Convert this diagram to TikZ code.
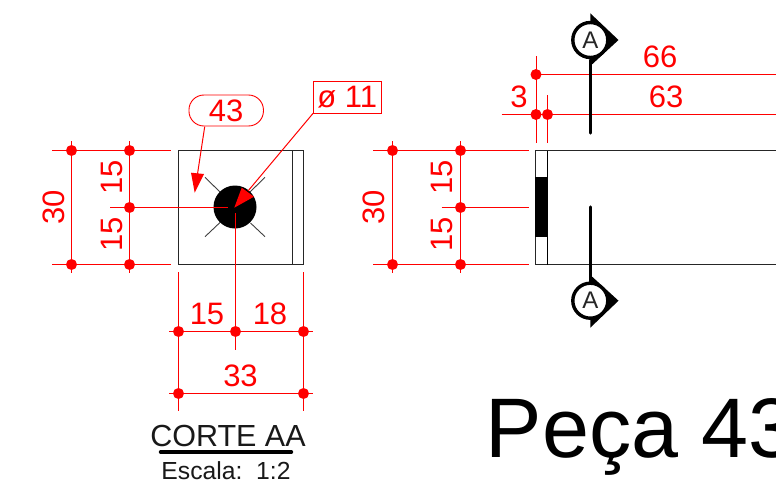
\documentclass[tikz,border=0pt]{standalone}
\usepackage{fontspec}
\setmainfont{Liberation Sans}
\tikzset{
  dimline/.style={draw=red,line width=1pt},
  dimdot/.style={circle,fill=red,draw=none,minimum size=11pt,inner sep=0pt},
  dimtext/.style={text=red,inner sep=0pt,font=\fontsize{31}{31}\selectfont},
  outline/.style={draw=black!85,line width=1pt},
  tick/.style={draw=black!75,line width=0.9pt},
  arrowfill/.style={fill=red,draw=none},
  secline/.style={draw=black,line width=3.4pt,line cap=round},
  secmark/.style={circle,draw=black,fill=white,line width=3.4pt,minimum size=35pt,inner sep=0pt,font=\fontsize{24}{24}\selectfont,text=black!85},
}
\begin{document}
\begin{tikzpicture}[x=1pt,y=-1pt]
\useasboundingbox (0,0) rectangle (776,482);
\clip (0,0) rectangle (776,482);
\fill[white] (0,0) rectangle (776,482);

% ---------- left view
\draw[outline] (178.5,150.5) rectangle (303.5,264.5);
\draw[outline] (292,150.5) -- (292,264.5);
\node[circle,fill=black,minimum size=43pt,inner sep=0pt] (hole) at (235,207) {};
\draw[tick] (205,177.3) -- (220,192);
\draw[tick] (265,177.3) -- (250,192);
\draw[tick] (205,236.7) -- (220,222.5);
\draw[tick] (265,236.7) -- (250.5,223);

% left dots
\node[dimdot] (a1) at (71.5,150.5) {};
\node[dimdot] (a2) at (71.5,264.5) {};
\node[dimdot] (b1) at (129.5,150.5) {};
\node[dimdot] (b2) at (129.5,207.5) {};
\node[dimdot] (b3) at (129.5,264.5) {};
\node[dimdot] (c1) at (178.5,331.5) {};
\node[dimdot] (c2) at (235.5,331.5) {};
\node[dimdot] (c3) at (303.5,331.5) {};
\node[dimdot] (d1) at (178.5,393.5) {};
\node[dimdot] (d3) at (303.5,393.5) {};

\draw[dimline] (52,150.5) -- (171,150.5);
\draw[dimline] (52,264.5) -- (171,264.5);
\draw[dimline] (110,207.5) -- (228,207.5);
\draw[dimline] (71.5,141) -- (71.5,273);
\draw[dimline] (129.5,141) -- (129.5,273);
\draw[dimline] (235.5,213) -- (235.5,350);
\draw[dimline] (169,331.5) -- (313,331.5);
\draw[dimline] (169,393.5) -- (313,393.5);
\draw[dimline] (178.5,272) -- (178.5,411);
\draw[dimline] (303.5,272) -- (303.5,411);

\node[dimtext,rotate=90] (t30a) at (54,207) {30};
\node[dimtext,rotate=90] (t15a) at (112,177.5) {15};
\node[dimtext,rotate=90] (t15b) at (112,234.5) {15};
\node[dimtext] (t15c) at (207,313.5) {15};
\node[dimtext] (t18) at (270,313.5) {18};
\node[dimtext] (t33) at (240.5,375.5) {33};

% callouts
\node[dimtext,draw=red,line width=0.9pt,rounded corners=15pt,minimum width=74.5pt,minimum height=31pt] (call43) at (226.2,110.5) {43};
\node[dimtext,draw=red,line width=0.7pt,minimum width=67.5pt,minimum height=31.5pt] (callo) at (347.2,97.2) {ø 11};
\coordinate (tip43) at (194.7,192.7);
\coordinate (tipo) at (234.3,207.7);
\draw[dimline] (204.7,126.7) -- (197.5,174);
\fill[arrowfill] (191,172.7) -- (204,174) -- (tip43) -- cycle;
\draw[dimline] (callo.south west) -- (248,191);
\fill[arrowfill] (241.7,187.7) -- (254,196.7) -- (tipo) -- cycle;

% ---------- right view
\draw[outline] (776,150.5) -- (535.7,150.5) -- (535.7,264.5) -- (776,264.5);
\draw[draw=black,line width=0.9pt] (547.5,150.5) -- (547.5,264.5);
\fill[black] (535,177) rectangle (548,237.3);

\node[dimdot] (e1) at (392.5,150.5) {};
\node[dimdot] (e2) at (392.5,264.5) {};
\node[dimdot] (f1) at (460.5,150.5) {};
\node[dimdot] (f2) at (460.5,207.5) {};
\node[dimdot] (f3) at (460.5,264.5) {};
\node[dimdot] (g1) at (536,74.5) {};
\node[dimdot] (g2) at (536,114.5) {};
\node[dimdot] (g3) at (547.5,114.5) {};

\draw[dimline] (373,150.5) -- (529,150.5);
\draw[dimline] (373,264.5) -- (529,264.5);
\draw[dimline] (441.7,207.5) -- (529,207.5);
\draw[dimline] (392.5,141) -- (392.5,273);
\draw[dimline] (460.5,141) -- (460.5,273);
\draw[dimline] (536,56) -- (536,143);
\draw[dimline] (547.5,95) -- (547.5,143);
\draw[dimline] (536,74.5) -- (776,74.5);
\draw[dimline] (501.7,114.5) -- (776,114.5);

\node[dimtext,rotate=90] (t30b) at (374,207) {30};
\node[dimtext,rotate=90] (t15d) at (442,177.5) {15};
\node[dimtext,rotate=90] (t15e) at (442,234.5) {15};
\node[dimtext] (t3) at (519,97) {3};
\node[dimtext] (t66) at (660,57) {66};
\node[dimtext] (t63) at (666,97) {63};

% section marks
\coordinate (sa) at (590.3,40);
\coordinate (sb) at (590.3,300.7);
\fill[black] (590.3,13.3) -- (618.5,40) -- (590.3,66) -- cycle;
\fill[black] (590.3,275) -- (618.5,300.7) -- (590.3,327.7) -- cycle;
\draw[secline] (590.3,60) -- (590.3,133);
\draw[secline] (590.3,207) -- (590.3,285);
\node[secmark] (ma) at (sa) {A};
\node[secmark] (mb) at (sb) {A};

% ---------- titles
\node[anchor=base,inner sep=0pt,font=\fontsize{30.5}{30.5}\selectfont,text=black!90] (title) at (228,446) {CORTE AA};
\node[anchor=base,inner sep=0pt,font=\fontsize{24.7}{24.7}\selectfont,text=black!90] (scale) at (226,479) {Escala:\ \ 1:2};
\draw[draw=black,line width=3.4pt,line cap=round] (160.5,452) -- (291.5,452);
\node[anchor=base west,inner sep=0pt,font=\fontsize{84.5}{84.5}\selectfont,text=black] (big) at (485.5,457.5) {Peça 43};
\end{tikzpicture}
\end{document}
